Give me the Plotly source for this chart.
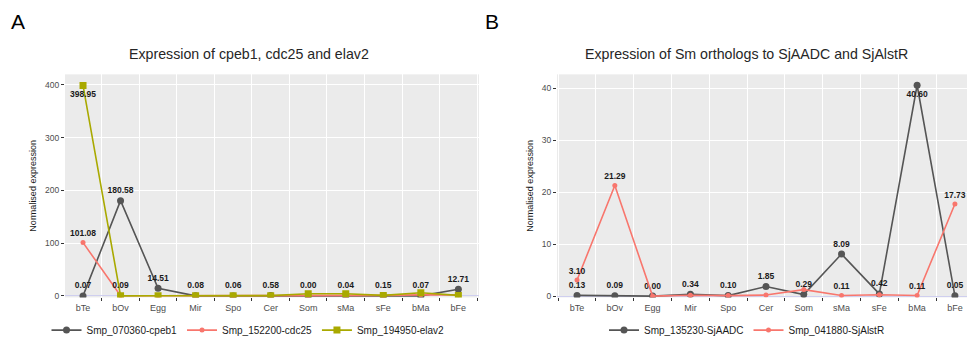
import plotly.graph_objects as go

categories = ["bTe", "bOv", "Egg", "Mir", "Spo", "Cer", "Som", "sMa", "sFe", "bMa", "bFe"]

# Panel A
cpeb1 = [0.07, 180.58, 14.51, 0.08, 0.06, 0.58, 0.00, 0.04, 0.15, 0.07, 12.71]
cdc25 = [101.08, 0.5, 0.2, 0.2, 0.2, 0.3, 0.5, 1.0, 1.0, 2.0, 2.0]
elav2 = [398.95, 0.09, 0.3, 0.3, 0.3, 0.5, 4.0, 4.0, 1.0, 6.0, 1.0]
cpeb1_lbl = ["0.07", "180.58", "14.51", "0.08", "0.06", "0.58", "0.00", "0.04", "0.15", "0.07", "12.71"]
cdc25_lbl = ["101.08", "", "", "", "", "", "", "", "", "", ""]
elav2_lbl = ["398.95", "0.09", "", "", "", "", "", "", "", "", ""]

# Panel B
aadc = [0.13, 0.09, 0.00, 0.34, 0.10, 1.85, 0.29, 8.09, 0.42, 40.60, 0.05]
alstr = [3.10, 21.29, 0.00, 0.15, 0.10, 0.20, 1.25, 0.11, 0.25, 0.11, 17.73]
aadc_lbl = ["0.13", "0.09", "0.00", "0.34", "0.10", "1.85", "0.29", "8.09", "0.42", "40.60", "0.05"]
alstr_lbl = ["3.10", "21.29", "", "", "", "", "", "0.11", "", "0.11", "17.73"]

GREY = "#555555"
RED = "#F8766D"
OLIVE = "#A9A900"
FONT = "Liberation Sans, Arial, sans-serif"

def pos(labels, below=()):
    return ["bottom center" if i in below else "top center" for i in range(len(labels))]

lblfont = dict(family=FONT, size=8.5, color="#1a1a1a", weight="bold")

fig = go.Figure()

fig.add_trace(go.Scatter(x=categories, y=cpeb1, name="Smp_070360-cpeb1", mode="lines+markers+text",
                         line=dict(color=GREY, width=1.6), marker=dict(color=GREY, size=7, symbol="circle"),
                         text=cpeb1_lbl, textposition=pos(cpeb1_lbl), textfont=lblfont,
                         xaxis="x", yaxis="y", legend="legend"))
fig.add_trace(go.Scatter(x=categories, y=cdc25, name="Smp_152200-cdc25", mode="lines+markers+text",
                         line=dict(color=RED, width=1.6), marker=dict(color=RED, size=5, symbol="circle"),
                         text=cdc25_lbl, textposition=pos(cdc25_lbl), textfont=lblfont,
                         xaxis="x", yaxis="y", legend="legend"))
fig.add_trace(go.Scatter(x=categories, y=elav2, name="Smp_194950-elav2", mode="lines+markers+text",
                         line=dict(color=OLIVE, width=1.6), marker=dict(color=OLIVE, size=7, symbol="square"),
                         text=elav2_lbl, textposition=pos(elav2_lbl, below=(0,)), textfont=lblfont,
                         xaxis="x", yaxis="y", legend="legend"))

fig.add_trace(go.Scatter(x=categories, y=aadc, name="Smp_135230-SjAADC", mode="lines+markers+text",
                         line=dict(color=GREY, width=1.6), marker=dict(color=GREY, size=7, symbol="circle"),
                         text=aadc_lbl, textposition=pos(aadc_lbl, below=(9,)), textfont=lblfont,
                         xaxis="x2", yaxis="y2", legend="legend2"))
fig.add_trace(go.Scatter(x=categories, y=alstr, name="Smp_041880-SjAlstR", mode="lines+markers+text",
                         line=dict(color=RED, width=1.6), marker=dict(color=RED, size=5, symbol="circle"),
                         text=alstr_lbl, textposition=pos(alstr_lbl), textfont=lblfont,
                         xaxis="x2", yaxis="y2", legend="legend2"))

ydom = [1 - 300 / 345, 1 - 75 / 345]
xcommon = dict(type="category", categoryorder="array", categoryarray=categories,
               tickson="boundaries", ticks="outside", ticklen=3, tickcolor="#333333",
               showgrid=True, gridcolor="white", gridwidth=1.2, ticklabelstandoff=4,
               tickfont=dict(family=FONT, size=9, color="#4D4D4D"), showline=False, zeroline=False)
ycommon = dict(ticks="outside", ticklen=3, tickcolor="#333333", showgrid=True, gridcolor="white", gridwidth=1.2,
               tickfont=dict(family=FONT, size=8.5, color="#4D4D4D"), zeroline=True,
               zerolinecolor="#CFCFEF", zerolinewidth=1,
               title=dict(text="Normalised expression", font=dict(family=FONT, size=9, color="#1a1a1a"), standoff=6),
               domain=ydom)

legcommon = dict(orientation="h", y=1 - 333 / 345, yanchor="middle", xanchor="center",
                 font=dict(family=FONT, size=10, color="#1a1a1a"), itemwidth=30, bgcolor="rgba(0,0,0,0)")

fig.update_layout(
    width=967, height=345, margin=dict(l=0, r=0, t=0, b=0),
    paper_bgcolor="white", plot_bgcolor="#EBEBEB",
    font=dict(family=FONT),
    xaxis=dict(xcommon, domain=[65 / 967, 479 / 967], range=[-0.48, 10.55], anchor="y"),
    yaxis=dict(ycommon, range=[-2.8, 420], tickvals=[0, 100, 200, 300, 400], anchor="x"),
    xaxis2=dict(xcommon, domain=[557 / 967, 1.0], range=[-0.53, 10.32], anchor="y2"),
    yaxis2=dict(ycommon, range=[-0.25, 42.7], tickvals=[0, 10, 20, 30, 40], anchor="x2"),
    legend=dict(legcommon, x=248 / 967),
    legend2=dict(legcommon, x=747 / 967),
    annotations=[
        dict(text="Expression of cpeb1, cdc25 and elav2", x=249 / 967, y=1 - 54 / 345, xref="paper", yref="paper",
             showarrow=False, xanchor="center", yanchor="middle", font=dict(family=FONT, size=14.2, color="#262626")),
        dict(text="Expression of Sm orthologs to SjAADC and SjAlstR", x=746 / 967, y=1 - 54 / 345, xref="paper",
             yref="paper", showarrow=False, xanchor="center", yanchor="middle",
             font=dict(family=FONT, size=14.2, color="#262626")),
        dict(text="A", x=9 / 967, y=1 - 22 / 345, xref="paper", yref="paper", showarrow=False,
             xanchor="left", yanchor="middle", font=dict(family=FONT, size=21, color="black")),
        dict(text="B", x=483 / 967, y=1 - 22 / 345, xref="paper", yref="paper", showarrow=False,
             xanchor="left", yanchor="middle", font=dict(family=FONT, size=21, color="black")),
    ],
)

fig.write_html("out.html")
